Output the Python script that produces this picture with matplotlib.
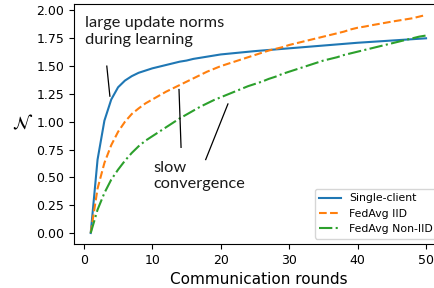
import numpy as np
import matplotlib
matplotlib.use('Agg')
import matplotlib.pyplot as plt

rounds = list(range(1, 51))

single_client = [0.00, 0.66, 1.01, 1.20, 1.31, 1.37, 1.41, 1.44, 1.46, 1.48,
                 1.495, 1.51, 1.525, 1.54, 1.55, 1.565, 1.575, 1.585, 1.595, 1.605,
                 1.611, 1.617, 1.623, 1.629, 1.635, 1.64, 1.645, 1.65, 1.655, 1.66,
                 1.665, 1.67, 1.675, 1.68, 1.685, 1.69, 1.695, 1.70, 1.705, 1.71,
                 1.714, 1.718, 1.722, 1.726, 1.73, 1.734, 1.738, 1.742, 1.746, 1.75]

fedavg_iid = [0.00, 0.40, 0.63, 0.79, 0.91, 1.00, 1.07, 1.12, 1.165, 1.20,
              1.235, 1.27, 1.30, 1.33, 1.36, 1.39, 1.42, 1.45, 1.475, 1.50,
              1.52, 1.54, 1.56, 1.58, 1.60, 1.62, 1.64, 1.655, 1.67, 1.69,
              1.705, 1.72, 1.735, 1.75, 1.765, 1.78, 1.795, 1.81, 1.83, 1.845,
              1.855, 1.867, 1.878, 1.889, 1.90, 1.91, 1.92, 1.93, 1.945, 1.96]

fedavg_noniid = [0.00, 0.21, 0.36, 0.48, 0.57, 0.65, 0.72, 0.78, 0.83, 0.87,
                 0.91, 0.95, 0.99, 1.03, 1.065, 1.10, 1.135, 1.165, 1.195, 1.22,
                 1.245, 1.27, 1.295, 1.32, 1.34, 1.36, 1.385, 1.405, 1.43, 1.45,
                 1.47, 1.49, 1.51, 1.53, 1.55, 1.565, 1.58, 1.60, 1.615, 1.63,
                 1.645, 1.66, 1.675, 1.69, 1.705, 1.72, 1.735, 1.75, 1.765, 1.775]

fig = plt.figure(figsize=(4.35, 2.88), dpi=100)
# the original figure was cropped on the right, so the axes runs past the edge
ax = fig.add_axes([0.170, 0.153, 0.848, 0.833])

ax.plot(rounds, single_client, linestyle='-', color='#1f77b4', label='Single-client')
ax.plot(rounds, fedavg_iid, linestyle='--', color='#ff7f0e', label='FedAvg IID')
ax.plot(rounds, fedavg_noniid, linestyle='-.', color='#2ca02c', label='FedAvg Non-IID')

ax.set_xlabel('Communication rounds', fontsize=11)
ax.set_ylabel(r'$\mathcal{N}$', fontsize=13, rotation=0, labelpad=10, va='center')
ax.tick_params(labelsize=9)
ax.set_xticks([0, 10, 20, 30, 40, 50])
ax.set_yticks([0, 0.25, 0.5, 0.75, 1.0, 1.25, 1.5, 1.75, 2.0])

note_font = dict(family=['Lato', 'DejaVu Sans'], fontsize=11.8, color='#1a1a1a')
ax.text(0.15, 1.95, 'large update norms\nduring learning', va='top', ha='left',
        linespacing=1.25, **note_font)
ax.plot([3.35, 3.8], [1.50, 1.23], color='black', linewidth=0.9)

ax.text(10.1, 0.65, 'slow\nconvergence', va='top', ha='left',
        linespacing=1.25, **note_font)
ax.plot([13.9, 14.2], [1.29, 0.77], color='black', linewidth=0.9)
ax.plot([21.05, 17.8], [1.16, 0.66], color='black', linewidth=0.9)

ax.legend(loc='lower right', fontsize=7.8)

fig.savefig('out.png', dpi=100)
